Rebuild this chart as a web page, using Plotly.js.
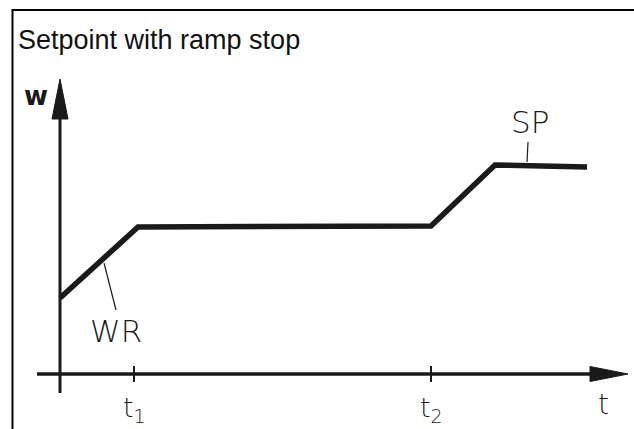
<!DOCTYPE html>
<html>
<head>
<meta charset="utf-8">
<script src="https://cdn.plot.ly/plotly-3.0.1.min.js"></script>
<style>
  body { margin: 0; background: white; }
  #chart { width: 634px; height: 429px; }
</style>
</head>
<body>
<div id="chart"></div>
<script>
// Setpoint curve (time vs setpoint value, arbitrary units)
const spTime = [0, 7.8, 37.1, 43.5, 52.7];
const spValue = [7.6, 14.7, 14.8, 20.9, 20.7];

// Time markers on the t axis
const tickTimes = [7.4, 37.1];
const tickLabels = ["t<sub>1</sub>", "t<sub>2</sub>"];

// Axis extents
const tAxisStart = -2.3, tAxisEnd = 56.8;
const wAxisStart = -1.9, wAxisEnd = 29.5;

// Callout labels
const calloutText = ["WR", "SP"];
const calloutAt = [[4.4, 11.1], [46.8, 23.2]];
const calloutEnd = [[5.6, 6.4], [46.7, 21.2]];
const calloutLabel = [[5.6, 4.3], [47.0, 25.2]];

const ink = "#1a1a1a";
const hand = "DejaVu Sans, sans-serif";

var traces = [];

// the setpoint line
traces.push({
  x: spTime, y: spValue,
  mode: "lines", type: "scatter",
  line: { color: ink, width: 5.5, shape: "linear" },
  hoverinfo: "skip"
});

// axes
traces.push({
  x: [tAxisStart, tAxisEnd - 3.8], y: [0, 0],
  mode: "lines", line: { color: ink, width: 3.5 }, hoverinfo: "skip"
});
traces.push({
  x: [0, 0], y: [wAxisStart, wAxisEnd - 4],
  mode: "lines", line: { color: ink, width: 3 }, hoverinfo: "skip"
});
// arrow heads
traces.push({
  x: [tAxisEnd - 3.8, tAxisEnd, tAxisEnd - 3.8, tAxisEnd - 3.8],
  y: [0.75, 0, -0.75, 0.75],
  mode: "lines", fill: "toself", fillcolor: ink,
  line: { color: ink, width: 1 }, hoverinfo: "skip"
});
traces.push({
  x: [-0.8, 0, 0.8, -0.8],
  y: [wAxisEnd - 4, wAxisEnd, wAxisEnd - 4, wAxisEnd - 4],
  mode: "lines", fill: "toself", fillcolor: ink,
  line: { color: ink, width: 1 }, hoverinfo: "skip"
});

// time ticks
tickTimes.forEach(function(t) {
  traces.push({
    x: [t, t], y: [-0.8, 0.8],
    mode: "lines", line: { color: ink, width: 2 }, hoverinfo: "skip"
  });
});

// callout leader lines
for (let i = 0; i < calloutText.length; i++) {
  traces.push({
    x: [calloutAt[i][0], calloutEnd[i][0]],
    y: [calloutAt[i][1], calloutEnd[i][1]],
    mode: "lines", line: { color: ink, width: 1.2 }, hoverinfo: "skip"
  });
}

var annotations = [];

annotations.push({
  text: "Setpoint with ramp stop",
  xref: "paper", yref: "paper", x: 16 / 634, y: 1 - 40 / 429,
  xanchor: "left", yanchor: "middle", showarrow: false,
  font: { family: "Liberation Sans, Arial, sans-serif", size: 27, color: "#111" }
});

for (let i = 0; i < calloutText.length; i++) {
  annotations.push({
    text: calloutText[i], x: calloutLabel[i][0], y: calloutLabel[i][1],
    showarrow: false, xanchor: "center", yanchor: "middle",
    font: { family: hand, size: 31, color: ink, weight: 200 }
  });
}

for (let i = 0; i < tickTimes.length; i++) {
  annotations.push({
    text: tickLabels[i], x: tickTimes[i], y: -3.5,
    showarrow: false, xanchor: "center", yanchor: "middle",
    font: { family: hand, size: 27, color: ink, weight: 200 }
  });
}

annotations.push({
  text: "t", x: 60.3 - 6, y: -3.0, showarrow: false,
  xanchor: "center", yanchor: "middle",
  font: { family: hand, size: 28, color: ink, weight: 200 }
});
annotations.push({
  text: "<b>w</b>", x: -2.4, y: 27.8, showarrow: false,
  xanchor: "center", yanchor: "middle",
  font: { family: hand, size: 26, color: ink }
});

var layout = {
  width: 634, height: 429,
  margin: { l: 0, r: 0, t: 0, b: 0 },
  paper_bgcolor: "white", plot_bgcolor: "white",
  showlegend: false,
  xaxis: { range: [-6, 57.4], visible: false, fixedrange: true },
  yaxis: { range: [-5.5, 37.4], visible: false, fixedrange: true },
  annotations: annotations,
  shapes: [
    { type: "line", xref: "paper", yref: "paper",
      x0: 12.5 / 634, x1: 12.5 / 634, y0: 0, y1: 1 - 10 / 429,
      line: { color: "black", width: 2 } },
    { type: "line", xref: "paper", yref: "paper",
      x0: 11.5 / 634, x1: 1, y0: 1 - 10 / 429, y1: 1 - 10 / 429,
      line: { color: "black", width: 2 } }
  ]
};

Plotly.newPlot("chart", traces, layout, { displayModeBar: false, staticPlot: true });
</script>
</body>
</html>
